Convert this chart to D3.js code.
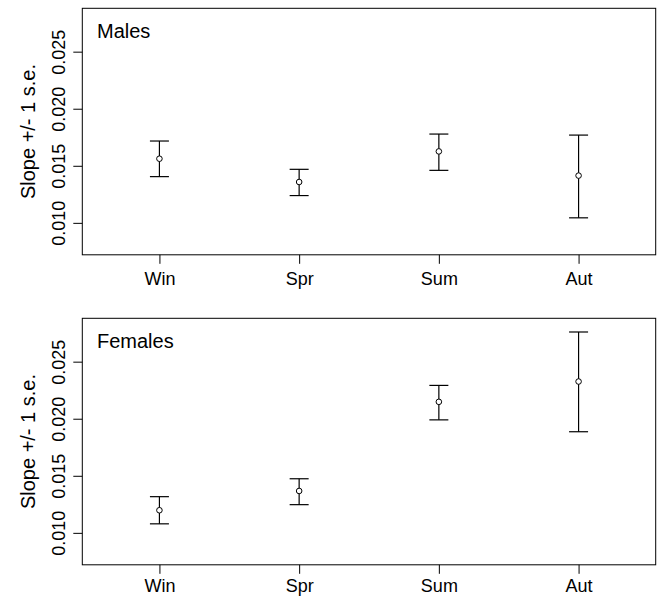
<!DOCTYPE html>
<html>
<head>
<meta charset="utf-8">
<script src="https://cdn.jsdelivr.net/npm/d3@7"></script>
<style>
  body { margin: 0; background: #fff; }
  svg text { font-family: "Liberation Sans", Arial, Helvetica, sans-serif; fill: #000; }
</style>
</head>
<body>
<script>
// Seasons along the x axis
const seasons = ["Win", "Spr", "Sum", "Aut"];

// Males: slope estimate and +/- 1 s.e. bounds
const malesSlope = [0.01562, 0.01358, 0.01626, 0.01414];
const malesLower = [0.01405, 0.01239, 0.01460, 0.01044];
const malesUpper = [0.01717, 0.01469, 0.01778, 0.01769];

// Females: slope estimate and +/- 1 s.e. bounds
const femalesSlope = [0.01198, 0.01367, 0.02148, 0.02326];
const femalesLower = [0.01079, 0.01247, 0.01990, 0.01886];
const femalesUpper = [0.01317, 0.01474, 0.02292, 0.02760];

// Axis ticks
const yTicks = [0.010, 0.015, 0.020, 0.025];

const width = 658, height = 596;
const svg = d3.select("body").append("svg")
    .attr("width", width)
    .attr("height", height);

// Both panels share the x range and the y domain
const left = 82.3, right = 655.7, panelH = 246.5;
const x = d3.scaleLinear().domain([0.448, 4.552]).range([left, right]);
const yDomain = [0.0072, 0.0288];

/*
 * One panel: box, axes, error bars and a title
 */
function drawPanel(top, title, slope, lower, upper, labelOffset) {
  let y = d3.scaleLinear().domain(yDomain).range([top + panelH, top]);
  let g = svg.append("g");

  let data = seasons.map(function(s, i) {
    return {season: s, pos: i + 1, slope: slope[i], lo: lower[i], hi: upper[i]};
  });

  // Frame
  g.append("rect")
      .attr("x", left).attr("y", top)
      .attr("width", right - left).attr("height", panelH)
      .attr("fill", "none")
      .attr("stroke", "#000")
      .attr("stroke-width", 1);

  // X axis
  let xAxis = g.append("g")
      .attr("transform", "translate(0," + (top + panelH) + ")")
      .call(d3.axisBottom(x)
        .tickValues([1, 2, 3, 4])
        .tickFormat(function(d) { return seasons[d - 1]; })
        .tickSize(9));
  xAxis.select(".domain").remove();
  xAxis.selectAll("line").attr("stroke", "#000");
  xAxis.selectAll("text")
      .attr("y", labelOffset)
      .attr("dy", 0)
      .style("font-size", "18px");

  // Y axis, labels rotated like base R
  let yAxis = g.append("g")
      .attr("transform", "translate(" + left + ",0)")
      .call(d3.axisLeft(y)
        .tickValues(yTicks)
        .tickFormat(d3.format(".3f"))
        .tickSize(9));
  yAxis.select(".domain").remove();
  yAxis.selectAll("line").attr("stroke", "#000");
  yAxis.selectAll("text")
      .attr("transform", "rotate(-90)")
      .attr("x", 0)
      .attr("y", -24)
      .attr("dy", "0.35em")
      .attr("text-anchor", "middle")
      .style("font-size", "18px");

  // Y axis title
  svg.append("text")
      .attr("text-anchor", "middle")
      .attr("transform", "translate(28," + (top + panelH / 2) + ")rotate(-90)")
      .attr("dy", "0.35em")
      .style("font-size", "20px")
      .text("Slope +/- 1 s.e.");

  // Panel title
  g.append("text")
      .attr("x", 97)
      .attr("y", top + 30)
      .style("font-size", "20px")
      .text(title);

  // Error bars
  let bars = g.selectAll(".bar").data(data).enter().append("g")
      .attr("class", "bar")
      .attr("stroke", "#000")
      .attr("stroke-width", 1.2);
  bars.append("line")
      .attr("x1", function(d) { return x(d.pos); })
      .attr("x2", function(d) { return x(d.pos); })
      .attr("y1", function(d) { return y(d.lo); })
      .attr("y2", function(d) { return y(d.hi); });
  bars.append("line")
      .attr("x1", function(d) { return x(d.pos) - 9.5; })
      .attr("x2", function(d) { return x(d.pos) + 9.5; })
      .attr("y1", function(d) { return y(d.hi); })
      .attr("y2", function(d) { return y(d.hi); });
  bars.append("line")
      .attr("x1", function(d) { return x(d.pos) - 9.5; })
      .attr("x2", function(d) { return x(d.pos) + 9.5; })
      .attr("y1", function(d) { return y(d.lo); })
      .attr("y2", function(d) { return y(d.lo); });
  bars.append("circle")
      .attr("cx", function(d) { return x(d.pos); })
      .attr("cy", function(d) { return y(d.slope); })
      .attr("r", 2.8)
      .attr("fill", "#fff")
      .attr("stroke-width", 1);
}

drawPanel(8.3, "Males", malesSlope, malesLower, malesUpper, 30);
// Bottom labels sit right at the page edge, so pull them up a little
drawPanel(318.3, "Females", femalesSlope, femalesLower, femalesUpper, 27);
</script>
</body>
</html>
